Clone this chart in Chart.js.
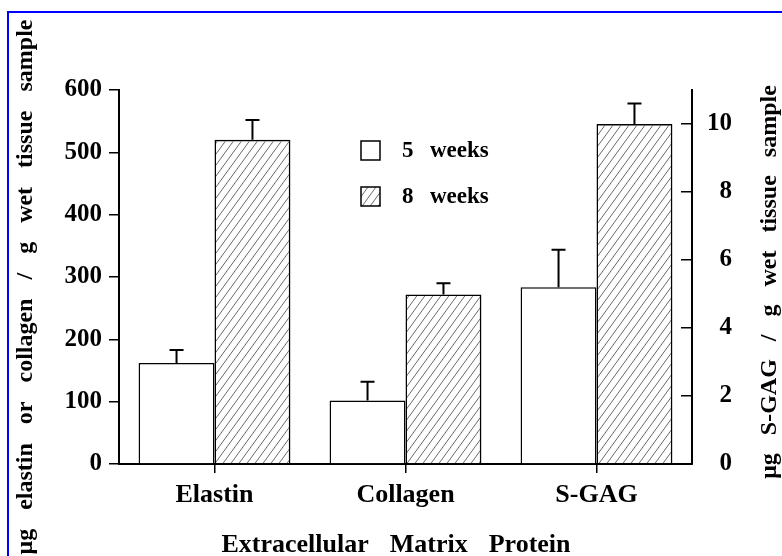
<!DOCTYPE html>
<html>
<head>
<meta charset="utf-8">
<script src="https://cdn.jsdelivr.net/npm/chart.js@4.4.1/dist/chart.umd.min.js"></script>
<style>
  body { margin: 0; background: #fff; }
  #wrap { width: 782px; height: 556px; position: relative; }
</style>
</head>
<body>
<div id="wrap"><canvas id="matrixChart"></canvas></div>
<script>
// values
const categories = ['Elastin', 'Collagen', 'S-GAG'];
const seriesLabels = ['5 weeks', '8 weeks'];
// elastin & collagen on the left axis, S-GAG (index 2) on the right axis
const weeks5 = [162, 102, 5.2];
const weeks8 = [520, 272, 10.0];
const err5 = [21, 30, 1.1];
const err8 = [32, 18, 0.6];
const leftTicks = [0, 100, 200, 300, 400, 500, 600];
const rightTicks = [0, 2, 4, 6, 8, 10];
const rightIndex = 2;

const serif = "'Liberation Serif', 'Times New Roman', serif";

// hatch pattern for 8 weeks
function makeHatch() {
  const c = document.createElement('canvas');
  c.width = 8; c.height = 11;
  const g = c.getContext('2d');
  g.strokeStyle = '#444';
  g.lineWidth = 0.8;
  for (const dx of [-8, 0, 8]) {
    g.beginPath();
    g.moveTo(dx, 11);
    g.lineTo(dx + 8, 0);
    g.stroke();
  }
  return g.createPattern(c, 'repeat');
}
const hatch = makeHatch();

const onLeft = (arr) => arr.map((v, i) => i === rightIndex ? null : v);
const onRight = (arr) => arr.map((v, i) => i === rightIndex ? v : null);

const barStyle = {
  borderColor: '#000',
  borderWidth: 1.5,
  skipNull: true,
  categoryPercentage: 0.795,
  barPercentage: 1.0
};

// error bars, upward only
const errorBars = {
  id: 'errorBars',
  afterDatasetsDraw(chart) {
    const ctx = chart.ctx;
    ctx.save();
    ctx.strokeStyle = '#000';
    ctx.lineWidth = 2;
    chart.data.datasets.forEach((ds, di) => {
      const meta = chart.getDatasetMeta(di);
      const scale = chart.scales[ds.yAxisID];
      meta.data.forEach((bar, i) => {
        const v = ds.data[i];
        if (v == null) return;
        const yTop = scale.getPixelForValue(v + ds.errors[i]);
        ctx.beginPath();
        ctx.moveTo(bar.x, bar.y);
        ctx.lineTo(bar.x, yTop);
        ctx.moveTo(bar.x - 7, yTop);
        ctx.lineTo(bar.x + 7, yTop);
        ctx.stroke();
      });
    });
    ctx.restore();
  }
};

function drawWords(ctx, text, cx, cy, rot, gap) {
  const words = text.split(' ');
  const widths = words.map(w => ctx.measureText(w).width);
  const total = widths.reduce((a, b) => a + b, 0) + gap * (words.length - 1);
  ctx.save();
  ctx.translate(cx, cy);
  ctx.rotate(rot);
  ctx.textAlign = 'left';
  ctx.textBaseline = 'middle';
  let x = -total / 2;
  words.forEach((w, i) => {
    ctx.fillText(w, x, 0);
    x += widths[i] + gap;
  });
  ctx.restore();
}

// blue frame, axis titles and the legend box
const decorations = {
  id: 'decorations',
  beforeDraw(chart) {
    const ctx = chart.ctx;
    ctx.save();
    ctx.fillStyle = '#0000ff';
    ctx.fillRect(7, 11, 775, 2);
    ctx.fillRect(7, 11, 2, 545);
    ctx.restore();
  },
  afterDraw(chart) {
    const ctx = chart.ctx;
    ctx.save();
    ctx.fillStyle = '#000';
    ctx.font = 'bold 24px ' + serif;
    drawWords(ctx, 'μg elastin or collagen / g wet tissue sample', 26, 287, -Math.PI / 2, 19);
    drawWords(ctx, 'μg S-GAG / g wet tissue sample', 770, 282, -Math.PI / 2, 18);
    ctx.font = 'bold 26px ' + serif;
    drawWords(ctx, 'Extracellular Matrix Protein', 396, 545, 0, 21);

    // legend
    const rows = [
      { label: seriesLabels[0], fill: '#fff', y: 141 },
      { label: seriesLabels[1], fill: hatch, y: 187 }
    ];
    ctx.font = 'bold 23px ' + serif;
    ctx.textBaseline = 'middle';
    ctx.textAlign = 'left';
    rows.forEach(r => {
      ctx.fillStyle = r.fill;
      ctx.fillRect(361, r.y, 19, 19);
      ctx.strokeStyle = '#000';
      ctx.lineWidth = 1.5;
      ctx.strokeRect(361, r.y, 19, 19);
      const [num, word] = r.label.split(' ');
      ctx.fillStyle = '#000';
      ctx.fillText(num, 402, r.y + 10);
      ctx.fillText(word, 430, r.y + 10);
    });
    ctx.restore();
  }
};

const ctx = document.getElementById('matrixChart').getContext('2d');
new Chart(ctx, {
  type: 'bar',
  data: {
    labels: categories,
    datasets: [
      Object.assign({ label: seriesLabels[0], data: onLeft(weeks5), errors: err5, yAxisID: 'y', backgroundColor: '#fff' }, barStyle),
      Object.assign({ label: seriesLabels[1], data: onLeft(weeks8), errors: err8, yAxisID: 'y', backgroundColor: hatch }, barStyle),
      Object.assign({ label: seriesLabels[0], data: onRight(weeks5), errors: err5, yAxisID: 'y1', backgroundColor: '#fff' }, barStyle),
      Object.assign({ label: seriesLabels[1], data: onRight(weeks8), errors: err8, yAxisID: 'y1', backgroundColor: hatch }, barStyle)
    ]
  },
  options: {
    responsive: true,
    maintainAspectRatio: false,
    animation: false,
    layout: { padding: { top: 90, right: 50, left: 0, bottom: 0 } },
    plugins: {
      legend: { display: false },
      tooltip: { enabled: false }
    },
    scales: {
      x: {
        grid: { display: true, offset: false, drawOnChartArea: false, drawTicks: true, tickLength: 9, color: '#000', lineWidth: 1.5 },
        border: { display: true, color: '#000', width: 2 },
        ticks: { color: '#000', padding: 7, font: { family: serif, size: 26, weight: 'bold' } },
        afterFit(s) { s.height = 92; }
      },
      y: {
        position: 'left',
        min: 0,
        max: 600,
        afterBuildTicks(s) { s.ticks = leftTicks.map(v => ({ value: v })); },
        grid: { drawOnChartArea: false, drawTicks: true, tickLength: 10, color: '#000', lineWidth: 1.5 },
        border: { display: true, color: '#000', width: 2 },
        ticks: { color: '#000', padding: 7, font: { family: serif, size: 25, weight: 'bold' } },
        afterFit(s) { s.width = 119; }
      },
      y1: {
        position: 'right',
        min: 0,
        max: 11,
        afterBuildTicks(s) { s.ticks = rightTicks.map(v => ({ value: v })); },
        grid: { drawOnChartArea: false, drawTicks: true, tickLength: -11, color: '#000', lineWidth: 1.5 },
        border: { display: true, color: '#000', width: 2 },
        ticks: { color: '#000', crossAlign: 'far', padding: 4, font: { family: serif, size: 25, weight: 'bold' } },
        afterFit(s) { s.width = 40; }
      }
    }
  },
  plugins: [errorBars, decorations]
});
</script>
</body>
</html>
